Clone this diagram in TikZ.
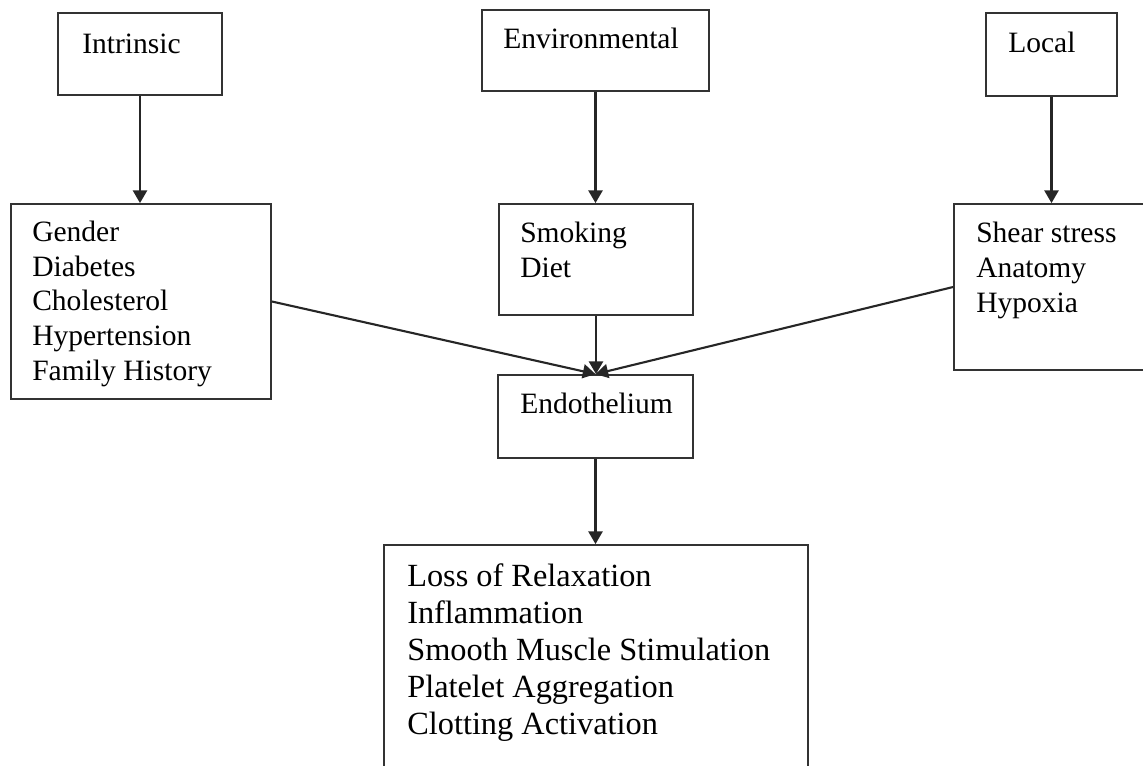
\documentclass[tikz,border=0pt]{standalone}
\usepackage{fontspec}
\setmainfont{Liberation Serif}
\usetikzlibrary{arrows.meta,fit}

\tikzset{
  box/.style={draw=black!80, line width=1.3pt, inner sep=0pt},
  lbl/.style={anchor=base west, align=left, inner sep=0pt,
    font=\fontsize{21}{24.6}\selectfont},
  link/.style={draw=black!85, line width=1.5pt,
    -{Triangle[length=9pt,width=10pt]}},
}

\begin{document}
\begin{tikzpicture}[x=0.025cm,y=-0.025cm]
\useasboundingbox (0,0) rectangle (1143,765);

% top row
\node[box, fit={(58,13) (222,95)}] (intr) {};
\node[box, fit={(482,10) (709,91)}] (env) {};
\node[box, fit={(986,13) (1117,96)}] (local) {};
\node[lbl] (intrtxt) at (82,53) {Intrinsic};
\node[lbl] (envtxt) at (503,48) {Environmental};
\node[lbl] (localtxt) at (1008,52) {Local};

% factors (base = last line)
\node[box, fit={(11,204) (271,399)}] (gender) {};
\node[box, fit={(499,204) (693,315)}] (smoke) {};
\node[box, fit={(954,204) (1160,370)}] (shear) {};
\node[lbl] (gendertxt) at (32,380)
  {Gender\\Diabetes\\Cholesterol\\Hypertension\\Family History};
\node[lbl] (smoketxt) at (520,277) {Smoking\\Diet};
\node[lbl] (sheartxt) at (976,312) {Shear stress\\Anatomy\\Hypoxia};

% endothelium and effects
\node[box, fit={(498,375) (693,458)}] (endo) {};
\node[lbl] (endotxt) at (520,413) {Endothelium};
\node[box, fit={(384,545) (808,800)}] (effects) {};
\node[lbl, font=\fontsize{23}{26.2}\selectfont] (effectstxt) at (407,734)
  {Loss of Relaxation\\Inflammation\\Smooth Muscle Stimulation\\Platelet Aggregation\\Clotting Activation};

\draw[link] (intr.south) -- (intr.south |- gender.north);
\draw[link] (env.south) -- (env.south |- smoke.north);
\draw[link] (local.south) -- (local.south |- shear.north);
\draw[link] (smoke.south) -- (smoke.south |- endo.north);
\draw[link] (gender.east) -- (endo.north);
\draw[link] (shear.west) -- (endo.north);
\draw[link] (endo.south) -- (endo.south |- effects.north);
\end{tikzpicture}
\end{document}
